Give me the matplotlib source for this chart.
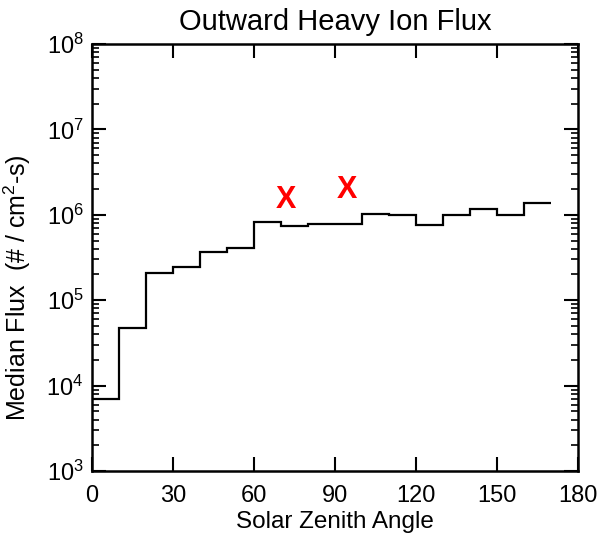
import math
import matplotlib
matplotlib.use("Agg")
import matplotlib.pyplot as plt
from matplotlib.ticker import LogLocator, FixedLocator, NullLocator, FuncFormatter

plt.rcParams['font.family'] = ['Liberation Sans', 'DejaVu Sans']
plt.rcParams['mathtext.default'] = 'regular'

bin_edges = [0, 10, 20, 30, 40, 50, 60, 70, 80, 90, 100, 110, 120, 130, 140, 150, 160, 170]
median_flux = [7.0e3, 4.7e4, 2.08e5, 2.45e5, 3.67e5, 4.05e5, 8.3e5, 7.33e5, 7.74e5,
               7.86e5, 1.02e6, 9.9e5, 7.66e5, 9.9e5, 1.17e6, 1.0e6, 1.37e6]
marker_angles = [72, 94.6]
marker_flux = [1.5e6, 1.95e6]
x_ticks = [0, 30, 60, 90, 120, 150, 180]

fig = plt.figure(figsize=(6.02, 5.36), dpi=100)
ax = fig.add_axes([92/602, 1-471/536, (578-92)/602, (471-44)/536])

ax.stairs(median_flux, bin_edges, baseline=None, color='black', linewidth=1.6)
for xa, ya in zip(marker_angles, marker_flux):
    ax.text(xa, ya, 'X', color='#ff0000', fontsize=22, fontweight='bold',
            ha='center', va='center')

ax.set_yscale('log')
ax.set_xlim(0, 180)
ax.set_ylim(1e3, 1e8)
ax.xaxis.set_major_locator(FixedLocator(x_ticks))
ax.xaxis.set_minor_locator(NullLocator())
ax.yaxis.set_major_locator(LogLocator(base=10, numticks=10))
ax.yaxis.set_minor_locator(LogLocator(base=10, subs=range(2, 10), numticks=20))
ax.yaxis.set_major_formatter(FuncFormatter(lambda v, p: r'$10^{%d}$' % round(math.log10(v))))

ax.tick_params(axis='both', which='major', direction='in', length=10, width=1.5,
               top=True, right=True, labelsize=17)
ax.tick_params(axis='x', which='major', pad=10)
ax.tick_params(axis='y', which='major', pad=6)
ax.tick_params(axis='both', which='minor', direction='in', length=5, width=1.2,
               top=True, right=True)
for s in ax.spines.values():
    s.set_linewidth(1.8)

ax.set_title('Outward Heavy Ion Flux', fontsize=21, pad=10)
ax.set_xlabel('Solar Zenith Angle', fontsize=17.5, labelpad=3)
ax.set_ylabel(r'Median Flux  (# / cm$^{2}$-s)', fontsize=18)
ax.yaxis.set_label_coords(-0.121, 0.43)

fig.savefig('out.png', dpi=100)
